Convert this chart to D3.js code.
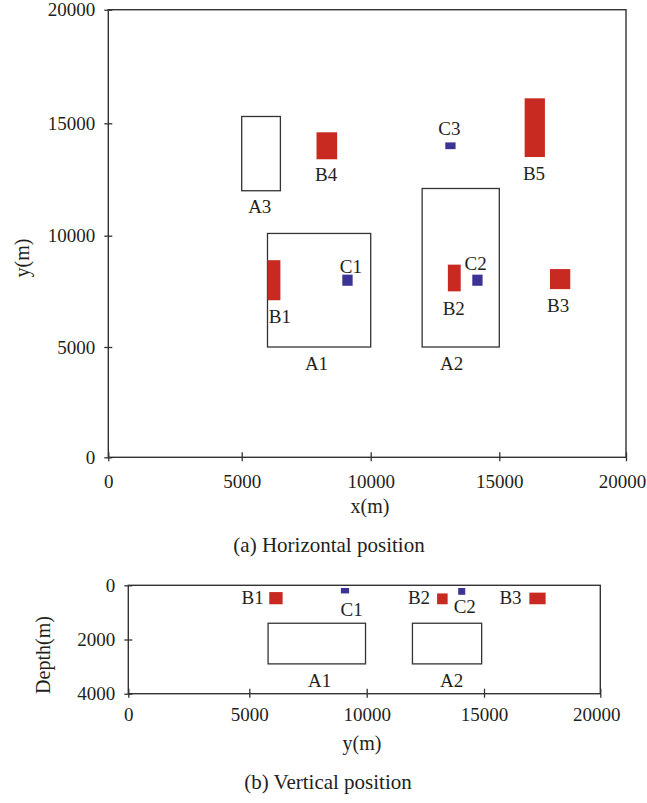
<!DOCTYPE html>
<html>
<head>
<meta charset="utf-8">
<script src="https://cdn.jsdelivr.net/npm/d3@7"></script>
<style>
  body { margin: 0; background: #fff; }
  text { font-family: "Liberation Serif", "Times New Roman", serif; fill: #231f20; }
</style>
</head>
<body>
<svg id="chart" width="647" height="803"></svg>
<script>
// tick values
var planTicks = [0, 5000, 10000, 15000, 20000];
var depthTicks = [0, 2000, 4000];

// (a) horizontal position: zones A, red blocks B, blue wells C  (metres)
var planZones = [
  {name: "A1", x0: 6000, x1: 10000, y0: 5000, y1: 10100, lx: 7900, ly: 3960},
  {name: "A2", x0: 12000, x1: 15000, y0: 5000, y1: 12100, lx: 13150, ly: 3960},
  {name: "A3", x0: 5000, x1: 6500, y0: 12000, y1: 15300, lx: 5700, ly: 11000}
];
var planRed = [
  {name: "B1", x0: 6000, x1: 6500, y0: 7100, y1: 8900, lx: 6480, ly: 6080},
  {name: "B2", x0: 13000, x1: 13500, y0: 7500, y1: 8700, lx: 13230, ly: 6440},
  {name: "B3", x0: 17000, x1: 17800, y0: 7600, y1: 8500, lx: 17320, ly: 6570},
  {name: "B4", x0: 7900, x1: 8700, y0: 13400, y1: 14600, lx: 8270, ly: 12450},
  {name: "B5", x0: 16000, x1: 16800, y0: 13500, y1: 16100, lx: 16370, ly: 12480}
];
var planBlue = [
  {name: "C1", x0: 8900, x1: 9300, y0: 7750, y1: 8250, lx: 9230, ly: 8320},
  {name: "C2", x0: 13950, x1: 14350, y0: 7750, y1: 8250, lx: 14080, ly: 8460},
  {name: "C3", x0: 12900, x1: 13300, y0: 13850, y1: 14150, lx: 13060, ly: 14480}
];

// (b) vertical position: depth ranges
var sectZones = [
  {name: "A1", x0: 5800, x1: 9950, d0: 1400, d1: 2900, lx: 8000, ld: 3750},
  {name: "A2", x0: 11950, x1: 14900, d0: 1400, d1: 2900, lx: 13620, ld: 3750}
];
var sectRed = [
  {name: "B1", x0: 5850, x1: 6420, d0: 250, d1: 700, lx: 5140, ld: 700},
  {name: "B2", x0: 13000, x1: 13450, d0: 300, d1: 700, lx: 12230, ld: 700},
  {name: "B3", x0: 16950, x1: 17650, d0: 270, d1: 700, lx: 16140, ld: 700}
];
var sectBlue = [
  {name: "C1", x0: 8900, x1: 9250, d0: 100, d1: 300, lx: 9360, ld: 1130},
  {name: "C2", x0: 13900, x1: 14200, d0: 100, d1: 350, lx: 14180, ld: 1020}
];

var RED = "#c82a22", BLUE = "#3b3395", INK = "#333";
var FS = 19;

var svg = d3.select("#chart");

// ---------- (a) ----------
// the printed axes are not quite evenly spaced, so map each tick to where it sits
var x1 = d3.scaleLinear().domain(planTicks).range([108.3, 241.7, 370.7, 499.3, 626]);
var y1 = d3.scaleLinear().domain(planTicks).range([457.3, 347, 235.7, 123.3, 9.7]);

function ends(s) {
  var r = s.range();
  return [r[0], r[r.length - 1]];
}

function frame(g, xs, ys) {
  var rx = ends(xs), ry = ends(ys);
  g.append("rect")
    .attr("x", rx[0]).attr("y", Math.min(ry[0], ry[1]))
    .attr("width", rx[1] - rx[0])
    .attr("height", Math.abs(ry[1] - ry[0]))
    .style("fill", "none").style("stroke", INK).style("stroke-width", 1.4);
}

function boxes(g, data, xs, ys, k0, k1, fill) {
  g.selectAll(null).data(data).enter().append("rect")
    .attr("x", function(d) { return xs(d.x0); })
    .attr("width", function(d) { return xs(d.x1) - xs(d.x0); })
    .attr("y", function(d) { return Math.min(ys(d[k0]), ys(d[k1])); })
    .attr("height", function(d) { return Math.abs(ys(d[k1]) - ys(d[k0])); })
    .style("fill", fill || "none")
    .style("stroke", fill ? "none" : INK)
    .style("stroke-width", 1.3);
}

function labels(g, data, xs, ys, ky) {
  g.selectAll(null).data(data).enter().append("text")
    .attr("x", function(d) { return xs(d.lx); })
    .attr("y", function(d) { return ys(d[ky]); })
    .attr("text-anchor", "middle")
    .style("font-size", FS + "px")
    .text(function(d) { return d.name; });
}

function axes(g, xs, ys, xt, yt, xPad) {
  var base = ys(yt[0]) > ys(yt[yt.length - 1]) ? ys(yt[0]) : ys(yt[yt.length - 1]);
  var gx = g.append("g").attr("transform", "translate(0," + base + ")")
    .call(d3.axisBottom(xs).tickValues(xt).tickSize(4).tickPadding(xPad).tickFormat(d3.format("d")));
  gx.selectAll(".tick line").attr("y1", -5);
  var gy = g.append("g").attr("transform", "translate(" + ends(xs)[0] + ",0)")
    .call(d3.axisLeft(ys).tickValues(yt).tickSize(4).tickPadding(9).tickFormat(d3.format("d")));
  gy.selectAll(".tick line").attr("x1", 4);
  g.selectAll(".domain").remove();
  g.selectAll(".tick line").style("stroke", INK).style("stroke-width", 1.3);
  g.selectAll(".tick text").style("font-size", FS + "px")
    .style("font-family", "'Liberation Serif', serif").style("fill", "#231f20");
  // keep the last x label inside the page
  gx.selectAll(".tick text").filter(function(d) { return d === xt[xt.length - 1]; })
    .attr("dx", -4);
}

var ga = svg.append("g");
frame(ga, x1, y1);
axes(ga, x1, y1, planTicks, planTicks, 13);
boxes(ga, planZones, x1, y1, "y0", "y1");
boxes(ga, planRed, x1, y1, "y0", "y1", RED);
boxes(ga, planBlue, x1, y1, "y0", "y1", BLUE);
labels(ga, planZones, x1, y1, "ly");
labels(ga, planRed, x1, y1, "ly");
labels(ga, planBlue, x1, y1, "ly");

ga.append("text").attr("transform", "translate(29,258) rotate(-90)")
  .attr("text-anchor", "middle").style("font-size", "20px").text("y(m)");
ga.append("text").attr("x", 370).attr("y", 513)
  .attr("text-anchor", "middle").style("font-size", "20px").text("x(m)");
ga.append("text").attr("x", 329).attr("y", 552)
  .attr("text-anchor", "middle").style("font-size", "21px").text("(a) Horizontal position");

// ---------- (b) ----------
var x2 = d3.scaleLinear().domain(planTicks).range([128.3, 249.3, 366.7, 484, 600.3]);
var y2 = d3.scaleLinear().domain([4000, 0]).range([693.7, 585.3]);

var gb = svg.append("g");
frame(gb, x2, y2);
axes(gb, x2, y2, planTicks, depthTicks, 9.5);
boxes(gb, sectZones, x2, y2, "d0", "d1");
boxes(gb, sectRed, x2, y2, "d0", "d1", RED);
boxes(gb, sectBlue, x2, y2, "d0", "d1", BLUE);
labels(gb, sectZones, x2, y2, "ld");
labels(gb, sectRed, x2, y2, "ld");
labels(gb, sectBlue, x2, y2, "ld");

gb.append("text").attr("transform", "translate(50,655) rotate(-90)")
  .attr("text-anchor", "middle").style("font-size", "20px").text("Depth(m)");
gb.append("text").attr("x", 362).attr("y", 750)
  .attr("text-anchor", "middle").style("font-size", "20px").text("y(m)");
gb.append("text").attr("x", 328).attr("y", 789)
  .attr("text-anchor", "middle").style("font-size", "21px").text("(b) Vertical position");
</script>
</body>
</html>
